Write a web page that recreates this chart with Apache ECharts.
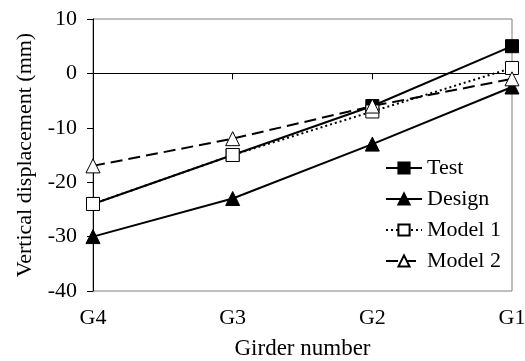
<!DOCTYPE html>
<html>
<head>
<meta charset="utf-8">
<script src="https://cdn.jsdelivr.net/npm/echarts@6/dist/echarts.min.js"></script>
<style>
  html, body { margin: 0; padding: 0; background: #fff; }
  #chart { width: 525px; height: 361px; }
</style>
</head>
<body>
<div id="chart"></div>
<script>
var girders = ['G4', 'G3', 'G2', 'G1'];
var testVals = [-24, -15, -6, 5];
var designVals = [-30, -23, -13, -2.5];
var model1Vals = [-24, -15, -7, 1];
var model2Vals = [-17, -12, -6, -1];

var chartDom = document.getElementById('chart');
var myChart = echarts.init(chartDom);
var font = 'Liberation Serif';

var option = {
  animation: false,
  textStyle: { fontFamily: font, color: '#000' },
  grid: {
    left: 93, right: 13, top: 19, bottom: 70,
    outerBoundsMode: 'none',
    show: true, borderColor: '#808080', borderWidth: 1
  },
  legend: {
    orient: 'vertical',
    left: 380,
    top: 152,
    itemWidth: 36,
    itemHeight: 14,
    itemGap: 9,
    textStyle: { fontFamily: font, fontSize: 22, color: '#000', lineHeight: 22 },
    data: ['Test', 'Design', 'Model 1', 'Model 2']
  },
  xAxis: [
    {
      type: 'category',
      data: girders,
      boundaryGap: false,
      axisLine: { onZero: true, lineStyle: { color: '#000', width: 1 } },
      axisTick: { show: true, inside: false, length: 6, lineStyle: { color: '#000' } },
      axisLabel: { show: false },
      splitLine: { show: false }
    },
    {
      type: 'category',
      data: girders,
      boundaryGap: false,
      position: 'bottom',
      axisLine: { show: false, onZero: false },
      axisTick: { show: false },
      axisLabel: { show: true, margin: 16, fontSize: 22, color: '#000', fontFamily: font },
      name: 'Girder number',
      nameLocation: 'middle',
      nameGap: 46,
      nameTextStyle: { fontSize: 23, color: '#000', fontFamily: font }
    }
  ],
  yAxis: {
    type: 'value',
    min: -40, max: 10, interval: 10,
    name: 'Vertical displacement (mm)',
    nameLocation: 'middle',
    nameGap: 57,
    nameTextStyle: { fontSize: 22, color: '#000', fontFamily: font },
    axisLine: { show: true, lineStyle: { color: '#000', width: 1 } },
    axisTick: { show: true, length: 6, lineStyle: { color: '#000' } },
    axisLabel: { margin: 16, fontSize: 22, color: '#000', fontFamily: font },
    splitLine: { show: false }
  },
  series: [
    {
      name: 'Test', type: 'line', data: testVals,
      symbol: 'rect', symbolSize: 13,
      lineStyle: { color: '#000', width: 2 },
      itemStyle: { color: '#000', borderColor: '#000', borderWidth: 1 }
    },
    {
      name: 'Design', type: 'line', data: designVals,
      symbol: 'triangle', symbolSize: 14,
      lineStyle: { color: '#000', width: 2 },
      itemStyle: { color: '#000', borderColor: '#000', borderWidth: 1 }
    },
    {
      name: 'Model 1', type: 'line', data: model1Vals,
      symbol: 'rect', symbolSize: 13,
      lineStyle: { color: '#000', width: 2, type: [2, 3] },
      itemStyle: { color: '#fff', borderColor: '#000', borderWidth: 1 }
    },
    {
      name: 'Model 2', type: 'line', data: model2Vals,
      symbol: 'triangle', symbolSize: 14,
      lineStyle: { color: '#000', width: 2, type: [12, 6] },
      itemStyle: { color: '#fff', borderColor: '#000', borderWidth: 1 }
    }
  ]
};

option && myChart.setOption(option);
</script>
</body>
</html>
